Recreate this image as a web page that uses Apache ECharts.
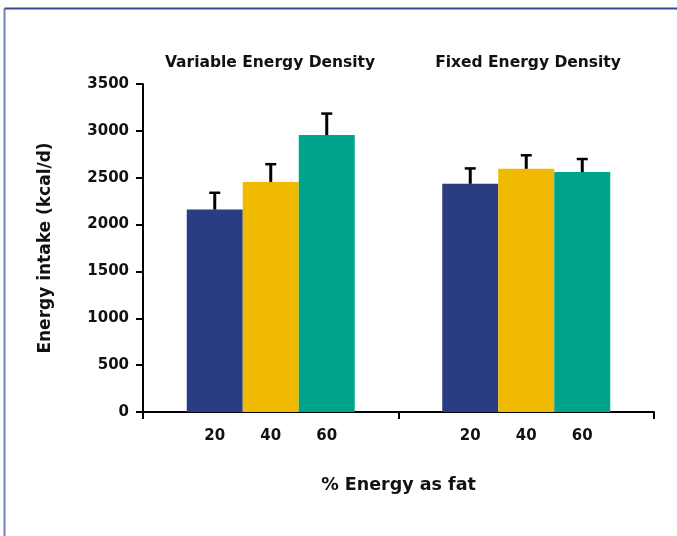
<!DOCTYPE html>
<html>
<head>
<meta charset="utf-8">
<script src="https://cdn.jsdelivr.net/npm/echarts@6/dist/echarts.min.js"></script>
<style>
  html, body { margin: 0; padding: 0; background: #fff; }
  #chart { width: 677px; height: 536px; }
</style>
</head>
<body>
<div id="chart"></div>
<script>
// Energy intake by dietary fat level, under two energy-density conditions
const groups = ['Variable Energy Density', 'Fixed Energy Density'];
const fatLevels = ['20', '40', '60'];
const intake20 = [2160, 2435];
const intake40 = [2455, 2595];
const intake60 = [2955, 2560];
const sem20 = [190, 175];
const sem40 = [200, 155];
const sem60 = [240, 150];
const yTicks = [0, 500, 1000, 1500, 2000, 2500, 3000, 3500];

const colors = ['#2a3c82', '#f0ba00', '#00a38c'];
const FONT = '"DejaVu Sans"';

const chart = echarts.init(document.getElementById('chart'));

const means = [intake20, intake40, intake60];
const sems = [sem20, sem40, sem60];

const barWidth = 56;

const barSeries = fatLevels.map((lvl, i) => ({
  type: 'bar',
  name: lvl,
  data: means[i],
  barWidth: barWidth,
  barGap: '0%',
  itemStyle: { color: colors[i] },
  label: {
    show: true,
    position: 'bottom',
    distance: 17,
    formatter: () => lvl,
    color: '#111',
    fontFamily: FONT,
    fontWeight: 'bold',
    fontSize: 15
  },
  z: 2
}));

// Error bars (upper whisker only) drawn on top of each bar
const errSeries = fatLevels.map((lvl, i) => ({
  type: 'custom',
  name: 'sem' + lvl,
  data: means[i].map((m, g) => [g, m, m + sems[i][g]]),
  z: 3,
  renderItem: function (params, api) {
    const g = api.value(0);
    const base = api.coord([g, api.value(1)]);
    const top = api.coord([g, api.value(2)]);
    const x = base[0] + (i - 1) * barWidth;
    return {
      type: 'group',
      children: [
        { type: 'line', shape: { x1: x, y1: base[1], x2: x, y2: top[1] + 1 },
          style: { stroke: '#000', lineWidth: 3 } },
        { type: 'line', shape: { x1: x - 5.5, y1: top[1] + 1, x2: x + 5.5, y2: top[1] + 1 },
          style: { stroke: '#000', lineWidth: 2.5 } }
      ]
    };
  }
}));

chart.setOption({
  animation: false,
  backgroundColor: '#fff',
  grid: { left: 143, right: 23, top: 84, bottom: 124, containLabel: false },
  graphic: [
    { type: 'line', shape: { x1: 4.5, y1: 8.5, x2: 4.5, y2: 536 }, style: { stroke: '#7683c2', lineWidth: 2 } },
    { type: 'line', shape: { x1: 4.5, y1: 8.5, x2: 677, y2: 8.5 }, style: { stroke: '#3a4a9c', lineWidth: 2 } },
    { type: 'text', x: 270, y: 63, style: { text: groups[0], font: 'bold 15.5px ' + FONT, fill: '#111', align: 'center', verticalAlign: 'middle' } },
    { type: 'text', x: 528, y: 63, style: { text: groups[1], font: 'bold 15.5px ' + FONT, fill: '#111', align: 'center', verticalAlign: 'middle' } }
  ],
  xAxis: {
    type: 'category',
    data: groups,
    axisLine: { lineStyle: { color: '#000', width: 2 } },
    axisTick: { show: true, inside: false, length: 7, lineStyle: { color: '#000', width: 2 } },
    axisLabel: { show: false },
    name: '% Energy as fat',
    nameLocation: 'middle',
    nameGap: 64,
    nameTextStyle: { color: '#111', fontFamily: FONT, fontWeight: 'bold', fontSize: 17.5 }
  },
  yAxis: {
    type: 'value',
    min: 0,
    max: 3500,
    interval: 500,
    splitLine: { show: false },
    axisLine: { show: true, lineStyle: { color: '#000', width: 2 } },
    axisTick: { show: true, length: 7, lineStyle: { color: '#000', width: 2 } },
    axisLabel: {
      color: '#111', fontFamily: FONT, fontWeight: 'bold', fontSize: 15, margin: 14,
      formatter: v => yTicks.includes(v) ? String(v) : ''
    },
    name: 'Energy intake (kcal/d)',
    nameLocation: 'middle',
    nameGap: 89,
    nameRotate: 90,
    nameTextStyle: { color: '#111', fontFamily: FONT, fontWeight: 'bold', fontSize: 17 }
  },
  series: [...barSeries, ...errSeries]
});
</script>
</body>
</html>
